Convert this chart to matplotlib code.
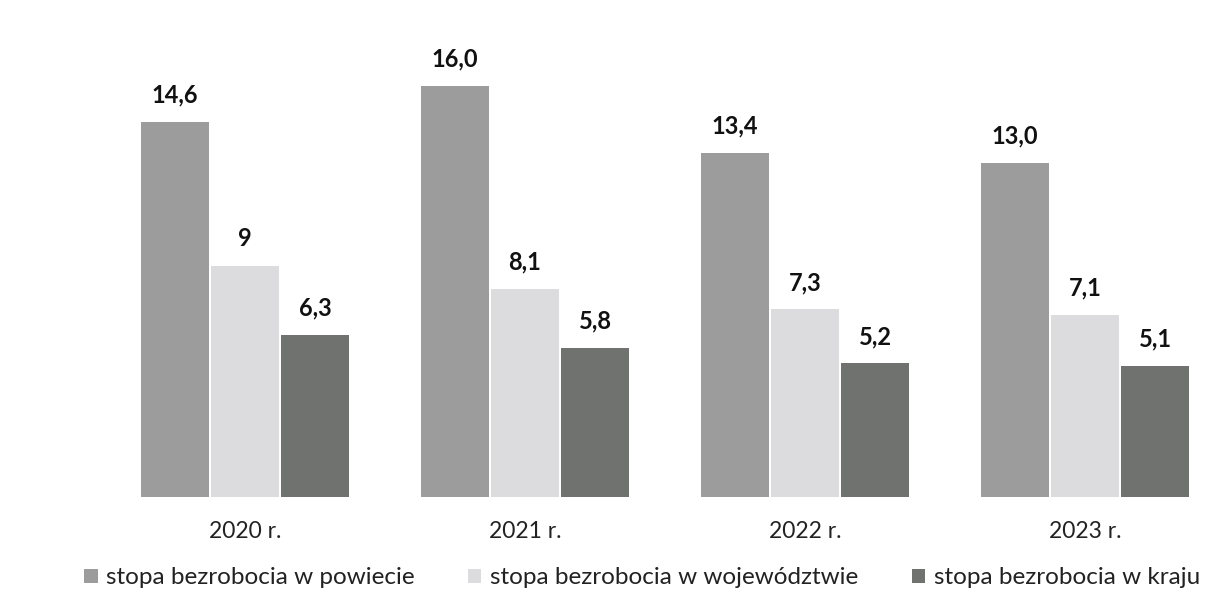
import matplotlib
matplotlib.use("Agg")
import matplotlib.pyplot as plt
import numpy as np
from matplotlib.patches import Patch

years = ["2020 r.", "2021 r.", "2022 r.", "2023 r."]
series_names = ["stopa bezrobocia w powiecie", "stopa bezrobocia w województwie", "stopa bezrobocia w kraju"]
powiat = [14.6, 16.0, 13.4, 13.0]
wojewodztwo = [9.0, 8.1, 7.3, 7.1]
kraj = [6.3, 5.8, 5.2, 5.1]
labels_powiat = ["14,6", "16,0", "13,4", "13,0"]
labels_woj = ["9", "8,1", "7,3", "7,1"]
labels_kraj = ["6,3", "5,8", "5,2", "5,1"]

colors = ["#9b9c9b", "#dcdcde", "#6f726f"]

plt.rcParams['font.family'] = ['Lato', 'DejaVu Sans']

fig = plt.figure(figsize=(12.23, 6.08), dpi=100)
ax = fig.add_axes([105/1223, (608-497)/608, 1120/1223, 18*25.7/608])

x = np.arange(len(years))
w = 0.25
data = [powiat, wojewodztwo, kraj]
labs = [labels_powiat, labels_woj, labels_kraj]
for i, (vals, lb) in enumerate(zip(data, labs)):
    pos = x + (i - 1) * w
    bars = ax.bar(pos, vals, width=w * 0.98, color=colors[i], edgecolor='none')
    for b, t in zip(bars, lb):
        ax.annotate(t, (b.get_x() + b.get_width() / 2, b.get_height()),
                    xytext=(0, 11), textcoords='offset points',
                    ha='center', va='bottom', fontsize=17, fontweight='bold', color='#111111')

ax.set_xlim(-0.5, 3.5)
ax.set_ylim(0, 18)
ax.set_xticks(x)
ax.set_xticklabels(years, fontsize=16.5, color='#222222')
ax.tick_params(axis='x', length=0, pad=17)
ax.set_yticks([])
for s in ax.spines.values():
    s.set_visible(False)

handles = [Patch(facecolor=c, edgecolor='none') for c in colors]
fig.legend(handles, series_names, loc='center', bbox_to_anchor=(642/1223, 1 - 578/608), ncol=3,
           frameon=False, fontsize=17.5, handlelength=0.55, handleheight=0.55,
           handletextpad=0.35, columnspacing=2.2, labelcolor='#222222')

fig.savefig("out.png", dpi=100)
